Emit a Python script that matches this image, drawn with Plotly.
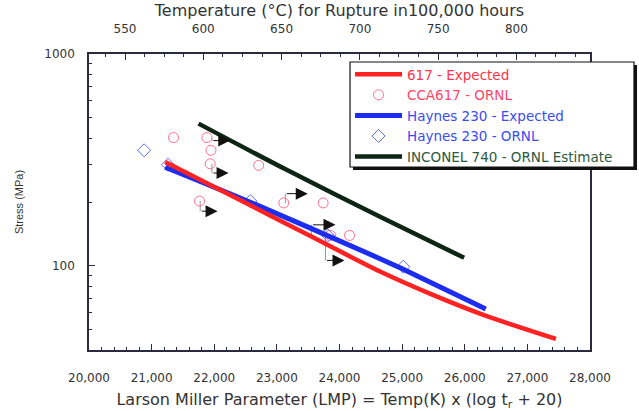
import numpy as np
import plotly.graph_objects as go

# ---------------- data ----------------
red_lmp = [21216, 22576, 23536, 24656, 25500, 26309, 27456]
red_stress = [309, 193, 138, 93.6, 72.6, 58.4, 45.1]

blue_lmp = [21216, 22576, 24656, 24976, 26336]
blue_stress = [292, 199.6, 107.7, 97.5, 62.4]

green_lmp = [21749, 23163, 24656, 25990]
green_stress = [469, 283, 170, 109]

cca_lmp = [21349, 21883, 21947, 21936, 21765, 22709, 23109, 23739, 23856, 24160]
cca_stress = [403, 403, 351, 303, 202, 298, 198, 198, 139, 139]

h230_lmp = [20880, 21260, 22576, 23813, 25019]
h230_stress = [351, 300, 202, 139, 99]

# run-out (still running) tests: connector from the point, then arrow
runout_start_lmp = [21963, 21963, 21776, 23136, 23552, 23776]
runout_end_lmp = [22256, 22229, 22053, 23493, 23936, 24080]
runout_stress = [390, 274, 181, 219, 156, 106]
runout_from_stress = [403, 303, 202, 198, 134, 139]

x_ticks = [20000, 21000, 22000, 23000, 24000, 25000, 26000, 27000, 28000]
x_range = [20000, 28000]
y_major = [100, 1000]
y_minor = [50, 60, 70, 80, 90, 200, 300, 400, 500, 600, 700, 800, 900]
y_range = [40, 1000]
temp_ticks = [550, 600, 650, 700, 750, 800]
log_tr = 5  # 100,000 hours

names = ["617 - Expected", "CCA617 - ORNL", "Haynes 230 - Expected",
         "Haynes 230 - ORNL", "INCONEL 740 - ORNL Estimate"]
name_colors = ["#ff3348", "#ff4466", "#3a4cf0", "#3a4cf0", "#2a5a40"]

# ---------------- figure ----------------
FONT = "DejaVu Sans"
TXT = "#333333"
FRAME = "#2a2a40"

def lbl(i):
    return f"<span style='color:{name_colors[i]}'>{names[i]}</span>"

fig = go.Figure()

# connectors for run-out arrows
cx, cy = [], []
for s, a, b in zip(runout_start_lmp, runout_from_stress, runout_stress):
    cx += [s, s, None]
    cy += [a, b, None]
fig.add_trace(go.Scatter(x=cx, y=cy, mode="lines", line=dict(color="#777777", width=0.8),
                         showlegend=False, hoverinfo="skip"))

fig.add_trace(go.Scatter(x=cca_lmp, y=cca_stress, mode="markers", name=lbl(1), legendrank=2,
                         marker=dict(symbol="circle-open", size=10, color="#ff7090", line=dict(width=1))))
fig.add_trace(go.Scatter(x=h230_lmp, y=h230_stress, mode="markers", name=lbl(3), legendrank=4,
                         marker=dict(symbol="diamond-open", size=10, color="#5a6cf5", line=dict(width=1))))
fig.add_trace(go.Scatter(x=green_lmp, y=green_stress, mode="lines", name=lbl(4), legendrank=5,
                         line=dict(color="#0e2414", width=4.5, shape="spline", smoothing=0.8)))
fig.add_trace(go.Scatter(x=blue_lmp, y=blue_stress, mode="lines", name=lbl(2), legendrank=3,
                         line=dict(color="#1c2cf0", width=5, shape="spline", smoothing=0.8)))
fig.add_trace(go.Scatter(x=red_lmp, y=red_stress, mode="lines", name=lbl(0), legendrank=1,
                         line=dict(color="#ff2222", width=4.5, shape="spline", smoothing=0.8)))

# dummy trace for the top temperature axis
t_lo = x_range[0] / (log_tr + 20) - 273
t_hi = x_range[1] / (log_tr + 20) - 273
fig.add_trace(go.Scatter(x=[t_lo, t_hi], y=[None, None], xaxis="x2", mode="lines",
                         showlegend=False, hoverinfo="skip"))

for s0, s1, st in zip(runout_start_lmp, runout_end_lmp, runout_stress):
    fig.add_annotation(x=s1, y=np.log10(st), ax=s0, ay=np.log10(st), xref="x", yref="y",
                       axref="x", ayref="y", text="", showarrow=True, arrowhead=2,
                       arrowsize=2.4, arrowwidth=1, arrowcolor="#111111")

# legend box with drop shadow
fig.add_shape(type="rect", xref="paper", yref="paper", x0=0.5269, x1=1.0938, y0=0.6081, y1=0.9628,
              fillcolor="#111111", line=dict(width=0), layer="above")
fig.add_shape(type="rect", xref="paper", yref="paper", x0=0.5210, x1=1.0878, y0=0.6182, y1=0.9730,
              fillcolor="white", line=dict(color="#111111", width=1.2), layer="above")

fig.update_layout(
    width=639, height=411,
    margin=dict(l=89, r=49, t=54, b=61, autoexpand=False),
    paper_bgcolor="white", plot_bgcolor="white",
    font=dict(family=FONT, size=12, color=TXT),
    xaxis=dict(range=x_range, tickvals=x_ticks, tickformat=",", showgrid=False, zeroline=False,
               ticks="inside", ticklen=6, tickcolor=FRAME, showline=True, linecolor=FRAME,
               linewidth=1.5, mirror=False, ticklabelstandoff=16, automargin=False,
               minor=dict(ticks="inside", dtick=200, ticklen=3, tickcolor=FRAME),
               tickfont=dict(family=FONT, size=12, color=TXT),
               title=dict(text="Larson Miller Parameter (LMP) = Temp(K) x (log t<sub>r</sub> + 20)",
                          font=dict(family=FONT, size=16, color=TXT), standoff=10)),
    xaxis2=dict(overlaying="x", side="top", range=[t_lo, t_hi], tickvals=temp_ticks,
                showgrid=False, zeroline=False, ticks="inside", ticklen=6, tickcolor=FRAME,
                showline=True, linecolor=FRAME, linewidth=1.5, ticklabelstandoff=14, automargin=False,
                minor=dict(ticks="inside", dtick=12.5, tick0=550, ticklen=3, tickcolor=FRAME),
                tickfont=dict(family=FONT, size=12, color=TXT),
                title=dict(text="Temperature (°C) for Rupture in100,000 hours",
                           font=dict(family=FONT, size=16, color=TXT), standoff=2)),
    yaxis=dict(type="log", range=[np.log10(y_range[0]), np.log10(y_range[1])], tickvals=y_major,
               showgrid=False, zeroline=False, ticks="inside", ticklen=6, tickcolor=FRAME,
               showline=True, linecolor=FRAME, linewidth=1.5, mirror=True, ticklabelstandoff=10,
               automargin=False,
               minor=dict(ticks="inside", tickvals=y_minor, ticklen=3, tickcolor=FRAME),
               tickfont=dict(family=FONT, size=12, color=TXT),
               title=dict(text="Stress (MPa)", font=dict(family="Liberation Sans", size=11, color=TXT),
                          standoff=18)),
    legend=dict(x=0.521, y=0.983, xanchor="left", yanchor="top", bgcolor="rgba(0,0,0,0)",
                borderwidth=0, itemwidth=47,
                font=dict(family=FONT, size=13.5), tracegroupgap=0),
    showlegend=True,
)

fig.write_html("out.html")
